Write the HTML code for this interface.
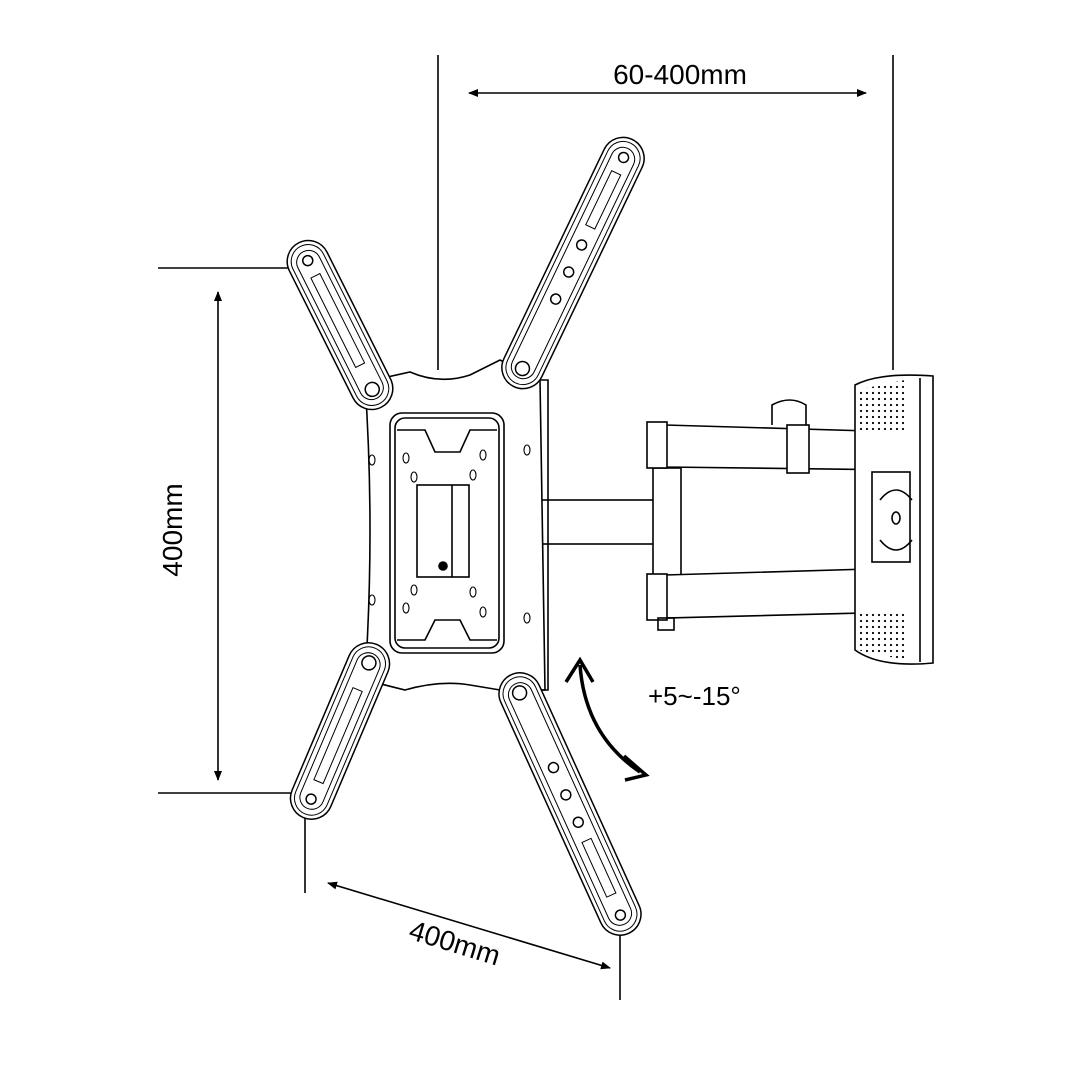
<!DOCTYPE html>
<html><head><meta charset="utf-8"><style>html,body{margin:0;padding:0;background:#fff}svg{display:block}</style></head>
<body>
<svg width="1067" height="1067" viewBox="0 0 1067 1067" xmlns="http://www.w3.org/2000/svg">
<defs>
<marker id="ah" viewBox="0 0 10 10" refX="9" refY="5" markerWidth="10" markerHeight="10" orient="auto-start-reverse" markerUnits="userSpaceOnUse"><path d="M0,1 L10,5 L0,9 z" fill="#000"/></marker>
<pattern id="dots" width="6" height="6" patternUnits="userSpaceOnUse"><circle cx="3" cy="3" r="1.1" fill="#000"/></pattern>
</defs>
<g fill="none" stroke="#000" stroke-width="1.6">
<line x1="438" y1="55" x2="438" y2="370"/>
<line x1="893" y1="55" x2="893" y2="370"/>
<line x1="158" y1="268" x2="305" y2="268"/>
<line x1="158" y1="793" x2="305" y2="793"/>
<line x1="305" y1="800" x2="305" y2="893"/>
<line x1="620" y1="912" x2="620" y2="1000"/>
<line x1="469" y1="93" x2="866" y2="93" marker-start="url(#ah)" marker-end="url(#ah)"/>
<line x1="218" y1="292" x2="218" y2="780" marker-start="url(#ah)" marker-end="url(#ah)"/>
<line x1="328" y1="883" x2="610" y2="968" marker-start="url(#ah)" marker-end="url(#ah)"/>
<path d="M580,665 Q585,735 640,772" stroke-width="3.5"/>
<path d="M566,682 L580,660 L593,682" stroke-width="3.5"/>
<path d="M624,756 L646,775 L625,780" stroke-width="3.5"/>

<rect x="538" y="500" width="130" height="44" fill="#fff"/>
<rect x="653" y="468" width="28" height="108" fill="#fff"/>
<path d="M665,425 L903,432 L903,470 L665,467 Z" fill="#fff"/>
<rect x="647" y="422" width="20" height="46" fill="#fff"/>
<rect x="787" y="425" width="22" height="48" fill="#fff"/>
<path d="M772,425 L772,405 Q790,395 806,405 L806,425"/>
<path d="M665,575 L903,568 L903,612 L665,618 Z" fill="#fff"/>
<rect x="647" y="574" width="20" height="46" fill="#fff"/>
<rect x="658" y="618" width="16" height="12"/>
<path d="M855,385 Q880,372 933,376 L933,663 Q880,668 855,650 Z" fill="#fff"/>
<line x1="920" y1="378" x2="920" y2="662"/>
<path d="M857,390 L905,380 L905,430 L857,430 Z" fill="url(#dots)" stroke="none"/>
<path d="M857,612 L905,612 L905,660 L857,650 Z" fill="url(#dots)" stroke="none"/>
<rect x="872" y="472" width="38" height="90" fill="#fff"/>
<ellipse cx="896" cy="518" rx="4" ry="6"/>
<path d="M880,500 Q896,480 912,500"/><path d="M880,540 Q896,560 912,540"/>

<path d="M365,382 L410,372 Q440,385 470,375 L500,360 L540,380 L545,690 L500,690 L470,685 Q440,680 405,690 L365,680 Q375,530 365,382 Z" fill="#fff"/>
<path d="M540,380 L548,380 L548,690 L540,690"/>
<rect x="390" y="413" width="114" height="240" rx="12" fill="#fff"/>
<rect x="395" y="418" width="104" height="230" rx="10"/>
<path d="M397,430 L425,430 L435,452 L460,452 L470,430 L497,430"/>
<path d="M397,640 L425,640 L435,620 L460,620 L470,640 L497,640"/>
<rect x="417" y="485" width="52" height="92" fill="#fff"/>
<line x1="452" y1="485" x2="452" y2="577"/>
<circle cx="443" cy="566" r="4" fill="#000"/>
<g stroke-width="1.1">
<ellipse cx="372" cy="460" rx="3" ry="5"/><ellipse cx="372" cy="600" rx="3" ry="5"/>
<ellipse cx="527" cy="450" rx="3" ry="5"/><ellipse cx="527" cy="618" rx="3" ry="5"/>
<ellipse cx="406" cy="458" rx="3" ry="5"/><ellipse cx="483" cy="455" rx="3" ry="5"/>
<ellipse cx="414" cy="477" rx="3" ry="5"/><ellipse cx="473" cy="475" rx="3" ry="5"/>
<ellipse cx="414" cy="590" rx="3" ry="5"/><ellipse cx="473" cy="592" rx="3" ry="5"/>
<ellipse cx="406" cy="608" rx="3" ry="5"/><ellipse cx="483" cy="612" rx="3" ry="5"/>
</g>
</g>

<g fill="#fff" stroke="#000" stroke-width="1.5">
<g transform="translate(340,325) rotate(63.4)">
  <rect x="-92" y="-21" width="184" height="42" rx="21"/>
  <rect x="-88" y="-17" width="176" height="34" rx="17" fill="none" stroke-width="1"/>
  <rect x="-82" y="-12" width="164" height="24" rx="12" fill="none" stroke-width="1"/>
  <rect x="-55" y="-5" width="100" height="10" fill="none" stroke-width="1"/>
  <circle cx="-72" cy="0" r="5" fill="none"/><circle cx="72" cy="0" r="7" fill="none"/>
</g>
<g transform="translate(573,263) rotate(115.6)">
  <rect x="-137" y="-21" width="274" height="42" rx="21"/>
  <rect x="-133" y="-17" width="266" height="34" rx="17" fill="none" stroke-width="1"/>
  <rect x="-127" y="-12" width="254" height="24" rx="12" fill="none" stroke-width="1"/>
  <rect x="-100" y="-5" width="60" height="10" fill="none" stroke-width="1"/>
  <circle cx="-20" cy="0" r="5" fill="none"/><circle cx="10" cy="0" r="5" fill="none"/><circle cx="40" cy="0" r="5" fill="none"/>
  <circle cx="-117" cy="0" r="5" fill="none"/><circle cx="117" cy="0" r="7" fill="none"/>
</g>
<g transform="translate(340,731) rotate(113)">
  <rect x="-94" y="-21" width="188" height="42" rx="21"/>
  <rect x="-90" y="-17" width="180" height="34" rx="17" fill="none" stroke-width="1"/>
  <rect x="-84" y="-12" width="168" height="24" rx="12" fill="none" stroke-width="1"/>
  <rect x="-45" y="-5" width="100" height="10" fill="none" stroke-width="1"/>
  <circle cx="-74" cy="0" r="7" fill="none"/><circle cx="74" cy="0" r="5" fill="none"/>
</g>
<g transform="translate(570,804) rotate(65.6)">
  <rect x="-142" y="-21" width="284" height="42" rx="21"/>
  <rect x="-138" y="-17" width="276" height="34" rx="17" fill="none" stroke-width="1"/>
  <rect x="-132" y="-12" width="264" height="24" rx="12" fill="none" stroke-width="1"/>
  <rect x="40" y="-5" width="60" height="10" fill="none" stroke-width="1"/>
  <circle cx="-40" cy="0" r="5" fill="none"/><circle cx="-10" cy="0" r="5" fill="none"/><circle cx="20" cy="0" r="5" fill="none"/>
  <circle cx="-122" cy="0" r="7" fill="none"/><circle cx="122" cy="0" r="5" fill="none"/>
</g>
</g>

<g font-family="Liberation Sans, sans-serif" font-size="28" fill="#000">
<text x="680" y="84" text-anchor="middle">60-400mm</text>
<text transform="translate(182,530) rotate(-90)" text-anchor="middle">400mm</text>
<text transform="translate(452,952) rotate(17)" text-anchor="middle">400mm</text>
<text x="648" y="705" font-size="26">+5~-15°</text>
</g>
</svg>
</body></html>
